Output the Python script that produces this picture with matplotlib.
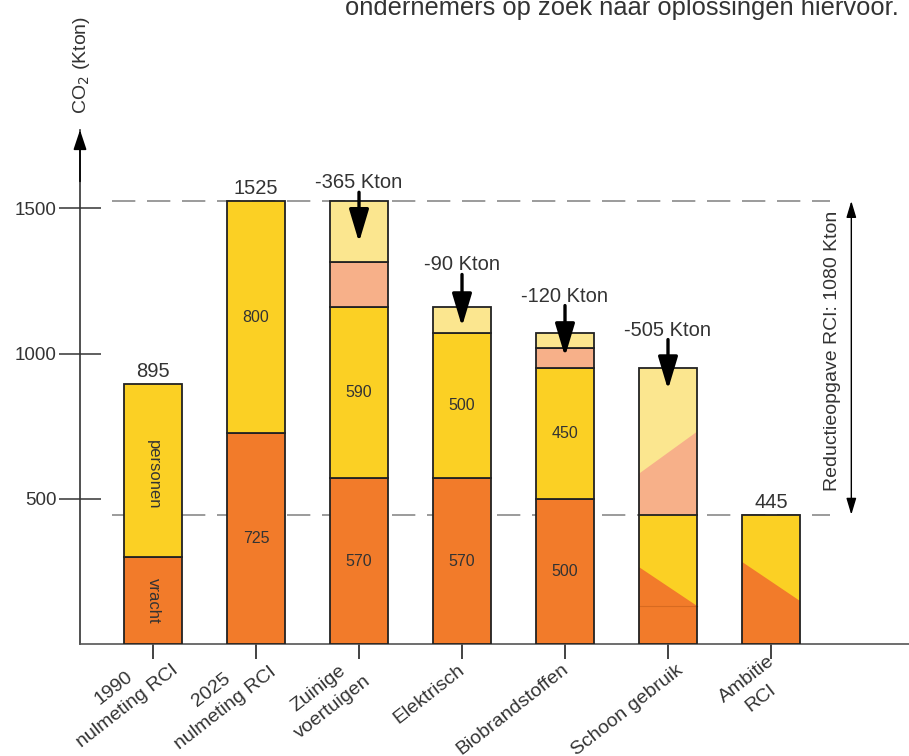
import matplotlib
matplotlib.use("Agg")
import matplotlib.pyplot as plt
from matplotlib.patches import Polygon, Rectangle
from matplotlib.transforms import ScaledTranslation, blended_transform_factory

plt.rcParams['font.family'] = ['Liberation Sans', 'DejaVu Sans']

categories = ["1990\nnulmeting RCI", "2025\nnulmeting RCI", "Zuinige\nvoertuigen",
              "Elektrisch", "Biobrandstoffen", "Schoon gebruik", "Ambitie\nRCI"]
# stacked segments for the first five bars
vracht = [300, 725, 570, 570, 500]
personen = [595, 800, 590, 500, 450]
red_vracht = [0, 0, 155, 0, 70]      # salmon: reduction vracht
red_personen = [0, 0, 210, 90, 50]   # light yellow: reduction personen
inner_vracht_labels = [None, "725", "570", "570", "500"]
inner_personen_labels = [None, "800", "590", "500", "450"]
totals_labels = {0: "895", 1: "1525", 6: "445"}
total_values = [895, 1525, 1525, 1160, 1070, 950, 445]
reduction_labels = {2: "-365 Kton", 3: "-90 Kton", 4: "-120 Kton", 5: "-505 Kton"}
# Schoon gebruik: total 950, remaining 445, diagonal splits (left, right)
schoon_total = 950
schoon_rest = 445
schoon_vracht_base = 131
schoon_vracht_diag = [265, 131]
schoon_red_diag = [586, 731]
# Ambitie: total 445, vracht diagonal (left, right)
ambitie_total = 445
ambitie_vracht_diag = [283, 148]
goal_top = 1525
goal_bottom = 445

ORANGE = '#F27B2A'
YELLOW = '#FBD024'
LYELLOW = '#FBE68F'
SALMON = '#F7B089'
TXT = '#333333'

fig = plt.figure(figsize=(9.09, 7.56), dpi=100)
ax = fig.add_axes([80/909, 1-644/756, 1-80/909, (644-130)/756])
ax.set_xlim(-0.709, 7.34)
ax.set_ylim(0, (644-130)/0.2905)

w = 0.565
ec = '#222222'
lw = 1.3

# reference dashed lines
for yv in (goal_top, goal_bottom):
    ax.plot([-0.40, 6.57], [yv, yv], color='#8a8a8a', lw=1.2, dashes=(14, 7), zorder=1)

for i in range(5):
    segs = [(vracht[i], ORANGE), (personen[i], YELLOW),
            (red_vracht[i], SALMON), (red_personen[i], LYELLOW)]
    bottom = 0
    for h, c in segs:
        if h > 0:
            ax.bar(i, h, width=w, bottom=bottom, color=c, edgecolor=ec, linewidth=lw, zorder=3)
            bottom += h
    if inner_vracht_labels[i]:
        ax.text(i, vracht[i] / 2, inner_vracht_labels[i],
                ha='center', va='center', fontsize=11.5, color=TXT, zorder=5)
        ax.text(i, vracht[i] + personen[i] / 2, inner_personen_labels[i],
                ha='center', va='center', fontsize=11.5, color=TXT, zorder=5)

ax.text(0, vracht[0] + personen[0] / 2 - 15, "personen", rotation=-90, ha='center',
        va='center', fontsize=12, color=TXT, zorder=5)
ax.text(0, vracht[0] / 2, "vracht", rotation=-90, ha='center', va='center',
        fontsize=12, color=TXT, zorder=5)

# Schoon gebruik (index 5)
x0, x1 = 5 - w/2, 5 + w/2
ax.add_patch(Polygon([(x0, schoon_rest), (x1, schoon_rest), (x1, schoon_total), (x0, schoon_total)],
                     closed=True, facecolor=LYELLOW, edgecolor='none', zorder=3))
ax.add_patch(Polygon([(x0, schoon_rest), (x1, schoon_rest), (x1, schoon_red_diag[1]), (x0, schoon_red_diag[0])],
                     closed=True, facecolor=SALMON, edgecolor='none', zorder=3))
ax.add_patch(Polygon([(x0, 0), (x1, 0), (x1, schoon_rest), (x0, schoon_rest)],
                     closed=True, facecolor=YELLOW, edgecolor='none', zorder=3))
ax.add_patch(Polygon([(x0, 0), (x1, 0), (x1, schoon_vracht_diag[1]), (x0, schoon_vracht_diag[0])],
                     closed=True, facecolor=ORANGE, edgecolor='none', zorder=3))
ax.plot([x0, x1], [schoon_vracht_base, schoon_vracht_base], color='#d86a20', lw=0.8, zorder=3)
ax.add_patch(Rectangle((x0, 0), w, schoon_total, facecolor='none', edgecolor=ec, lw=lw, zorder=4))
ax.plot([x0, x1], [schoon_rest, schoon_rest], color=ec, lw=lw, zorder=4)

# Ambitie (index 6)
x0, x1 = 6 - w/2, 6 + w/2
ax.add_patch(Polygon([(x0, 0), (x1, 0), (x1, ambitie_total), (x0, ambitie_total)],
                     closed=True, facecolor=YELLOW, edgecolor='none', zorder=3))
ax.add_patch(Polygon([(x0, 0), (x1, 0), (x1, ambitie_vracht_diag[1]), (x0, ambitie_vracht_diag[0])],
                     closed=True, facecolor=ORANGE, edgecolor='none', zorder=3))
ax.add_patch(Rectangle((x0, 0), w, ambitie_total, facecolor='none', edgecolor=ec, lw=lw, zorder=4))

# totals
for i, lab in totals_labels.items():
    ax.text(i, total_values[i] + 10, lab, ha='center', va='bottom', fontsize=14.5, color=TXT)

# reductions with arrows
arrow_spans = {2: (1555, 1383), 3: (1272, 1093), 4: (1165, 990), 5: (1048, 876)}
for i, lab in reduction_labels.items():
    ys, ye = arrow_spans[i]
    ax.text(i, ys, lab, ha='center', va='bottom', fontsize=14.5, color=TXT, zorder=6)
    ax.annotate('', xy=(i, ye), xytext=(i, ys),
                arrowprops=dict(arrowstyle='-|>,head_length=2.0,head_width=0.6',
                                color='black', lw=2.4, shrinkA=0, shrinkB=0), zorder=6)

# reduction goal double arrow
ax.annotate('', xy=(6.78, goal_bottom), xytext=(6.78, goal_top),
            arrowprops=dict(arrowstyle='<|-|>,head_length=1.0,head_width=0.3',
                            color='black', lw=1.0, shrinkA=0, shrinkB=0))
ax.text(6.60, (goal_top + goal_bottom) / 2 + 25, "Reductieopgave RCI: 1080 Kton", rotation=90,
        ha='center', va='center', fontsize=14, color=TXT)

# axes styling
for s in ('top', 'right'):
    ax.spines[s].set_visible(False)
ax.spines['left'].set_color('#333333')
ax.spines['bottom'].set_color('#555555')
ax.spines['left'].set_linewidth(1.2)
ax.spines['bottom'].set_linewidth(1.2)
ax.annotate('', xy=(0, 1.0), xycoords='axes fraction', xytext=(0, 0.9),
            arrowprops=dict(arrowstyle='-|>,head_length=1.2,head_width=0.4', color='black', lw=1.2,
                            shrinkA=0, shrinkB=0))

ax.set_yticks([500, 1000, 1500])
ax.set_yticklabels(['500', '1000', '1500'], fontsize=13.5, color=TXT)
ax.tick_params(axis='y', direction='inout', length=30, width=1.2, color='#444444', pad=2)
ax.set_xticks(range(7))
ax.set_xticklabels([])
ax.tick_params(axis='x', direction='inout', length=22, width=1.2, color='#222222')

# rotated category labels (anchor offsets in pixels from tick position)
label_dx = [4, -1, -10, -5, -4, 8, -4]
label_y = [643, 645, 654, 661, 660, 662, 653]
trans = blended_transform_factory(ax.transData, fig.transFigure)
for i, lab in enumerate(categories):
    off = ScaledTranslation(label_dx[i] / 100, 0, fig.dpi_scale_trans)
    ax.text(i, 1 - label_y[i] / 756, lab, transform=trans + off, rotation=38,
            rotation_mode='anchor', ha='right', va='top', multialignment='center',
            linespacing=1.5, fontsize=14, color=TXT, clip_on=False)

fig.text(81/909, 1 - 65/756, "CO$_2$ (Kton)", rotation=90, ha='center', va='center',
         fontsize=14, color=TXT)
fig.text(345/909, 1 - 15/756, "ondernemers op zoek naar oplossingen hiervoor.",
         ha='left', va='baseline', fontsize=18.4, color=TXT)

fig.savefig('out.png', dpi=100)
